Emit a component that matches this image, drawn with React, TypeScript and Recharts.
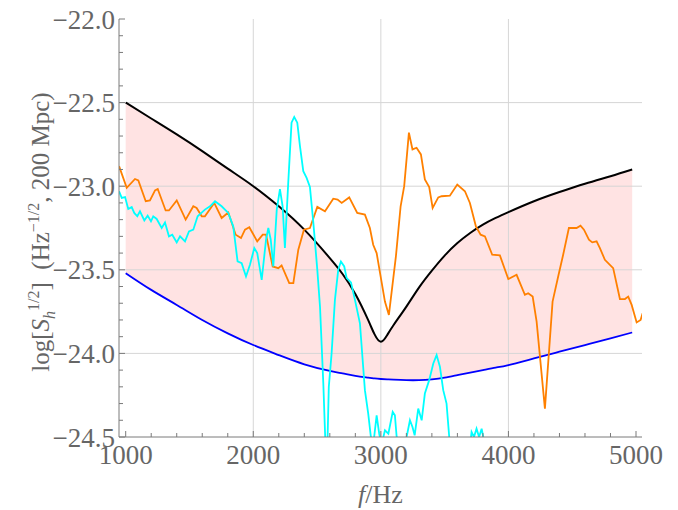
import { ComposedChart, XAxis, YAxis, Line, Area, ReferenceLine } from 'recharts';

const FONT = '"Liberation Serif", "Times New Roman", serif';
const TEXT = '#666';
const FRAME = '#7a7a7a';
const GRID = '#d6d6d6';

// frequency axis (Hz)
const xTicks = [1000, 1200, 1400, 1600, 1800, 2000, 2200, 2400, 2600, 2800, 3000, 3200, 3400, 3600, 3800, 4000, 4200, 4400, 4600, 4800, 5000];
const xMajor = [1000, 2000, 3000, 4000, 5000];
const xGrid = [2000, 3000, 4000];

// log strain axis
const yTicks = [-24.5, -24.4, -24.3, -24.2, -24.1, -24.0, -23.9, -23.8, -23.7, -23.6, -23.5, -23.4, -23.3, -23.2, -23.1, -23.0, -22.9, -22.8, -22.7, -22.6, -22.5, -22.4, -22.3, -22.2, -22.1, -22.0];
const yMajor = [-24.5, -24.0, -23.5, -23.0, -22.5, -22.0];
const yGrid = [-24.0, -23.5, -23.0, -22.5];

// upper (black) and lower (blue) bounds, shaded between
const boundF = [1000, 1200, 1400, 1600, 1800, 2000, 2200, 2400, 2600, 2700, 2800, 2900, 2950, 3000, 3050, 3100, 3200, 3300, 3400, 3500, 3600, 3700, 3800, 3900, 4000, 4200, 4400, 4600, 4800, 4970];
const upperBlack = [-22.5, -22.595, -22.69, -22.79, -22.895, -23.0, -23.12, -23.26, -23.43, -23.525, -23.645, -23.8, -23.885, -23.93, -23.89, -23.83, -23.72, -23.605, -23.505, -23.415, -23.34, -23.28, -23.23, -23.19, -23.155, -23.09, -23.035, -22.985, -22.94, -22.9];
const lowerBlue = [-23.52, -23.62, -23.71, -23.8, -23.88, -23.95, -24.01, -24.065, -24.105, -24.12, -24.135, -24.145, -24.15, -24.153, -24.155, -24.157, -24.16, -24.16, -24.155, -24.145, -24.13, -24.115, -24.1, -24.085, -24.07, -24.03, -23.99, -23.95, -23.91, -23.875];

const orangeCurve: [number, number][] = [
  [948, -22.88], [1008, -23.01], [1073, -22.957], [1099, -22.965], [1157, -23.09], [1190, -23.085],
  [1230, -23.025], [1251, -23.017], [1313, -23.145], [1339, -23.145], [1400, -23.085], [1470, -23.2],
  [1530, -23.12], [1556, -23.13], [1596, -23.18], [1621, -23.18], [1694, -23.1], [1752, -23.19],
  [1804, -23.157], [1862, -23.29], [1904, -23.31], [1935, -23.26], [1969, -23.246], [2031, -23.33],
  [2074, -23.29], [2100, -23.29], [2152, -23.48], [2196, -23.49], [2222, -23.474], [2282, -23.58],
  [2314, -23.58], [2353, -23.38], [2397, -23.26], [2444, -23.25], [2502, -23.124], [2562, -23.15],
  [2627, -23.075], [2661, -23.08], [2693, -23.1], [2752, -23.067], [2815, -23.16], [2875, -23.17],
  [2914, -23.25], [2940, -23.35], [2967, -23.4], [3032, -23.69], [3063, -23.77], [3118, -23.42],
  [3155, -23.12], [3183, -23.0], [3220, -22.68], [3248, -22.78], [3280, -22.77], [3314, -22.81],
  [3345, -22.96], [3379, -23.005], [3406, -23.13], [3450, -23.067], [3476, -23.06], [3541, -23.057],
  [3599, -22.99], [3659, -23.03], [3698, -23.1], [3745, -23.24], [3782, -23.29], [3816, -23.3],
  [3873, -23.41], [3933, -23.414], [3999, -23.555], [4064, -23.53], [4129, -23.65], [4155, -23.64],
  [4190, -23.66], [4221, -23.81], [4286, -24.33], [4346, -23.69], [4390, -23.54], [4429, -23.41],
  [4474, -23.25], [4534, -23.25], [4565, -23.236], [4592, -23.26], [4631, -23.32], [4657, -23.336],
  [4691, -23.33], [4717, -23.37], [4756, -23.44], [4821, -23.49], [4874, -23.675], [4913, -23.675],
  [4939, -23.66], [4966, -23.71], [5005, -23.815], [5036, -23.8], [5052, -23.76],
];

const cyanCurve: [number, number][] = [
  [948, -23.03], [969, -23.07], [995, -23.065], [1020, -23.136], [1047, -23.125], [1067, -23.16],
  [1091, -23.18], [1112, -23.15], [1146, -23.205], [1172, -23.176], [1198, -23.21], [1216, -23.18],
  [1243, -23.196], [1282, -23.25], [1308, -23.217], [1339, -23.3], [1365, -23.29], [1400, -23.336],
  [1426, -23.3], [1465, -23.33], [1496, -23.27], [1530, -23.26], [1564, -23.18], [1621, -23.14],
  [1661, -23.12], [1700, -23.09], [1752, -23.12], [1804, -23.16], [1843, -23.24], [1877, -23.45],
  [1909, -23.46], [1943, -23.54], [1974, -23.47], [2008, -23.37], [2031, -23.4], [2066, -23.56],
  [2100, -23.32], [2118, -23.25], [2137, -23.32], [2157, -23.48], [2184, -23.14], [2209, -23.017],
  [2230, -23.12], [2248, -23.37], [2274, -22.98], [2300, -22.62], [2321, -22.586], [2345, -22.62],
  [2366, -22.76], [2392, -22.91], [2418, -22.95], [2444, -23.005], [2471, -23.22], [2502, -23.5],
  [2523, -23.72], [2549, -24.18], [2566, -24.55], [2574, -24.7], [2582, -24.52], [2592, -24.2],
  [2614, -24.0], [2640, -23.68], [2666, -23.5], [2687, -23.45], [2713, -23.48], [2732, -23.55],
  [2766, -23.575], [2797, -23.68], [2836, -23.82], [2875, -24.22], [2901, -24.36], [2922, -24.5],
  [2940, -24.55], [2967, -24.37], [2987, -24.48], [3005, -24.55], [3032, -24.46], [3059, -24.48],
  [3093, -24.35], [3110, -24.37], [3124, -24.5], [3150, -24.6], [3190, -24.6], [3202, -24.5],
  [3228, -24.4], [3248, -24.44], [3265, -24.49], [3293, -24.33], [3320, -24.4], [3345, -24.24],
  [3379, -24.16], [3411, -24.06], [3437, -24.01], [3463, -24.08], [3489, -24.22], [3515, -24.3],
  [3536, -24.5], [3560, -24.7], [3680, -24.7], [3711, -24.47], [3730, -24.5], [3750, -24.45],
  [3770, -24.5], [3790, -24.45], [3803, -24.5], [3820, -24.7],
];

const bandRows = boundF.map((f, i) => ({ f, band: [lowerBlue[i], upperBlack[i]], black: upperBlack[i], blue: lowerBlue[i] }));
const toRows = (pts: [number, number][]) => pts.map(([f, v]) => ({ f, v }));
const orangeRows = toRows(orangeCurve);
const cyanRows = toRows(cyanCurve);

const isYMajor = (v: number) => yMajor.some((m) => Math.abs(m - v) < 1e-6);
const fmtY = (v: number) => v.toFixed(1).replace('-', '\u2212');

const BottomTick = ({ x, y, payload }: any) => {
  const major = xMajor.includes(payload.value);
  return (
    <g>
      <line x1={x} x2={x} y1={y} y2={y - (major ? 6 : 4)} stroke={FRAME} />
      {major && (
        <text x={x} y={y + 27} textAnchor="middle" fontSize={27} fill={TEXT} fontFamily={FONT}>
          {payload.value}
        </text>
      )}
    </g>
  );
};

const TopTick = ({ x, y, payload }: any) => {
  const major = xMajor.includes(payload.value);
  return <line x1={x} x2={x} y1={y} y2={y + (major ? 6 : 4)} stroke={FRAME} />;
};

const LeftTick = ({ x, y, payload }: any) => {
  const major = isYMajor(payload.value);
  return (
    <g>
      <line x1={x} x2={x + (major ? 6 : 4)} y1={y} y2={y} stroke={FRAME} />
      {major && (
        <text x={x - 4} y={y + 9.5} textAnchor="end" fontSize={27} fill={TEXT} fontFamily={FONT}>
          {fmtY(payload.value)}
        </text>
      )}
    </g>
  );
};

const RightTick = ({ x, y, payload }: any) => {
  const major = isYMajor(payload.value);
  return <line x1={x} x2={x - (major ? 6 : 4)} y1={y} y2={y} stroke={FRAME} />;
};

const XLabel = ({ viewBox }: any) => (
  <text x={viewBox.x + viewBox.width / 2} y={viewBox.y + 66} textAnchor="middle" fontSize={26} fill={TEXT} fontFamily={FONT}>
    <tspan fontStyle="italic">f</tspan>
    <tspan>/Hz</tspan>
  </text>
);

const YLabel = ({ viewBox }: any) => {
  const cx = viewBox.x + 49;
  const cy = viewBox.y + viewBox.height / 2 + 4;
  return (
    <text transform={`translate(${cx},${cy}) rotate(-90)`} textAnchor="middle" fontSize={25} fill={TEXT} fontFamily={FONT}>
      <tspan>log[</tspan>
      <tspan fontStyle="italic">S</tspan>
      <tspan fontStyle="italic" fontSize={16} dy={6}>h</tspan>
      <tspan fontSize={16} dy={-16}>{'1/2'}</tspan>
      <tspan dy={10}>{']\u00a0\u00a0(Hz'}</tspan>
      <tspan fontSize={16} dy={-10}>{'\u22121/2'}</tspan>
      <tspan dy={10}>, 200 Mpc)</tspan>
    </text>
  );
};

export default function App() {
  return (
    <div style={{ position: 'absolute', left: 0, top: 0 }}>
      <ComposedChart width={678} height={510} margin={{ top: 19, right: 36, bottom: 0, left: 0 }}>
        <XAxis
          xAxisId="b"
          type="number"
          dataKey="f"
          domain={[947.5, 5047]}
          allowDataOverflow
          ticks={xTicks}
          interval={0}
          height={73}
          tickSize={0}
          tickMargin={0}
          tickLine={false}
          axisLine={{ stroke: FRAME }}
          tick={<BottomTick />}
          label={<XLabel />}
        />
        <XAxis
          xAxisId="t"
          orientation="top"
          type="number"
          dataKey="f"
          domain={[947.5, 5047]}
          allowDataOverflow
          ticks={xTicks}
          interval={0}
          height={0}
          tickSize={0}
          tickMargin={0}
          tickLine={false}
          axisLine={{ stroke: FRAME }}
          tick={<TopTick />}
        />
        <YAxis
          yAxisId="l"
          type="number"
          domain={[-24.5, -22]}
          allowDataOverflow
          ticks={yTicks}
          interval={0}
          width={119}
          tickSize={0}
          tickMargin={0}
          tickLine={false}
          axisLine={{ stroke: FRAME }}
          tick={<LeftTick />}
          label={<YLabel />}
        />
        <YAxis
          yAxisId="r"
          orientation="right"
          type="number"
          domain={[-24.5, -22]}
          allowDataOverflow
          ticks={yTicks}
          interval={0}
          width={0}
          tickSize={0}
          tickMargin={0}
          tickLine={false}
          axisLine={{ stroke: FRAME }}
          tick={<RightTick />}
        />
        {xGrid.map((g) => (
          <ReferenceLine key={`x${g}`} x={g} xAxisId="b" yAxisId="l" stroke={GRID} strokeWidth={1} />
        ))}
        {yGrid.map((g) => (
          <ReferenceLine key={`y${g}`} y={g} xAxisId="b" yAxisId="l" stroke={GRID} strokeWidth={1} />
        ))}
        <Area
          data={bandRows}
          xAxisId="b"
          yAxisId="l"
          dataKey="band"
          type="natural"
          fill="#ff8080"
          fillOpacity={0.22}
          stroke="none"
          isAnimationActive={false}
        />
        <Line data={bandRows} xAxisId="b" yAxisId="l" dataKey="black" type="natural" stroke="#000" strokeWidth={2} dot={false} activeDot={false} isAnimationActive={false} />
        <Line data={bandRows} xAxisId="b" yAxisId="l" dataKey="blue" type="natural" stroke="#0000ff" strokeWidth={1.8} dot={false} activeDot={false} isAnimationActive={false} />
        <Line data={orangeRows} xAxisId="b" yAxisId="l" dataKey="v" type="linear" stroke="#ff8000" strokeWidth={1.8} dot={false} activeDot={false} isAnimationActive={false} />
        <Line data={cyanRows} xAxisId="b" yAxisId="l" dataKey="v" type="linear" stroke="#00ffff" strokeWidth={1.8} dot={false} activeDot={false} isAnimationActive={false} />
      </ComposedChart>
    </div>
  );
}
